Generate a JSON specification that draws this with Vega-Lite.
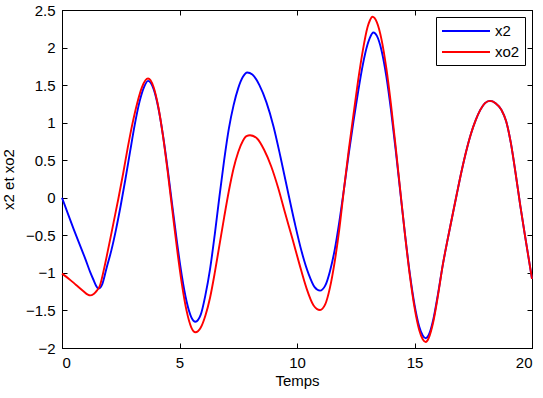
{
  "$schema": "https://vega.github.io/schema/vega-lite/v6.json",
  "width": 470,
  "height": 338,
  "autosize": {"type": "none"},
  "padding": {"left": 62, "top": 10, "right": 11, "bottom": 50},
  "background": "white",
  "config": {
    "font": "Liberation Sans",
    "view": {"stroke": "black", "strokeWidth": 1},
    "axis": {
      "labelFont": "Liberation Sans",
      "labelFontSize": 15,
      "labelColor": "black",
      "titleFont": "Liberation Sans",
      "titleFontSize": 15,
      "titleFontWeight": "normal",
      "titleColor": "black",
      "domainColor": "black",
      "tickColor": "black",
      "grid": false,
      "tickSize": -5,
      "domainWidth": 1,
      "tickWidth": 1
    }
  },
  "datasets": {
    "series": [
      {"t": 0, "v": 0, "s": "x2"},
      {"t": 0.25, "v": -0.21, "s": "x2"},
      {"t": 0.5, "v": -0.42, "s": "x2"},
      {"t": 0.75, "v": -0.62, "s": "x2"},
      {"t": 1.0, "v": -0.82, "s": "x2"},
      {"t": 1.2, "v": -0.99, "s": "x2"},
      {"t": 1.35, "v": -1.1, "s": "x2"},
      {"t": 1.45, "v": -1.17, "s": "x2"},
      {"t": 1.55, "v": -1.21, "s": "x2"},
      {"t": 1.7, "v": -1.16, "s": "x2"},
      {"t": 1.9, "v": -0.93, "s": "x2"},
      {"t": 2.1, "v": -0.7, "s": "x2"},
      {"t": 2.3, "v": -0.42, "s": "x2"},
      {"t": 2.5, "v": -0.1, "s": "x2"},
      {"t": 2.7, "v": 0.25, "s": "x2"},
      {"t": 2.9, "v": 0.62, "s": "x2"},
      {"t": 3.1, "v": 0.98, "s": "x2"},
      {"t": 3.3, "v": 1.28, "s": "x2"},
      {"t": 3.5, "v": 1.48, "s": "x2"},
      {"t": 3.66, "v": 1.557, "s": "x2"},
      {"t": 3.9, "v": 1.446, "s": "x2"},
      {"t": 4.1, "v": 1.196, "s": "x2"},
      {"t": 4.3, "v": 0.826, "s": "x2"},
      {"t": 4.5, "v": 0.374, "s": "x2"},
      {"t": 4.7, "v": -0.12, "s": "x2"},
      {"t": 4.9, "v": -0.608, "s": "x2"},
      {"t": 5.1, "v": -1.039, "s": "x2"},
      {"t": 5.3, "v": -1.377, "s": "x2"},
      {"t": 5.5, "v": -1.588, "s": "x2"},
      {"t": 5.68, "v": -1.65, "s": "x2"},
      {"t": 5.9, "v": -1.56, "s": "x2"},
      {"t": 6.1, "v": -1.3, "s": "x2"},
      {"t": 6.3, "v": -0.95, "s": "x2"},
      {"t": 6.5, "v": -0.49, "s": "x2"},
      {"t": 6.7, "v": 0.02, "s": "x2"},
      {"t": 6.9, "v": 0.5, "s": "x2"},
      {"t": 7.1, "v": 0.92, "s": "x2"},
      {"t": 7.3, "v": 1.23, "s": "x2"},
      {"t": 7.5, "v": 1.46, "s": "x2"},
      {"t": 7.7, "v": 1.61, "s": "x2"},
      {"t": 7.88, "v": 1.667, "s": "x2"},
      {"t": 8.1, "v": 1.64, "s": "x2"},
      {"t": 8.4, "v": 1.5, "s": "x2"},
      {"t": 8.7, "v": 1.27, "s": "x2"},
      {"t": 9.0, "v": 0.95, "s": "x2"},
      {"t": 9.3, "v": 0.54, "s": "x2"},
      {"t": 9.6, "v": 0.1, "s": "x2"},
      {"t": 9.9, "v": -0.33, "s": "x2"},
      {"t": 10.2, "v": -0.72, "s": "x2"},
      {"t": 10.5, "v": -1.02, "s": "x2"},
      {"t": 10.75, "v": -1.19, "s": "x2"},
      {"t": 10.98, "v": -1.236, "s": "x2"},
      {"t": 11.2, "v": -1.17, "s": "x2"},
      {"t": 11.4, "v": -0.98, "s": "x2"},
      {"t": 11.6, "v": -0.7, "s": "x2"},
      {"t": 11.8, "v": -0.32, "s": "x2"},
      {"t": 12.0, "v": 0.12, "s": "x2"},
      {"t": 12.2, "v": 0.58, "s": "x2"},
      {"t": 12.4, "v": 1.01, "s": "x2"},
      {"t": 12.6, "v": 1.41, "s": "x2"},
      {"t": 12.8, "v": 1.77, "s": "x2"},
      {"t": 13.0, "v": 2.04, "s": "x2"},
      {"t": 13.1, "v": 2.13, "s": "x2"},
      {"t": 13.25, "v": 2.2, "s": "x2"},
      {"t": 13.4, "v": 2.155, "s": "x2"},
      {"t": 13.6, "v": 1.958, "s": "x2"},
      {"t": 13.8, "v": 1.62, "s": "x2"},
      {"t": 14.0, "v": 1.166, "s": "x2"},
      {"t": 14.2, "v": 0.635, "s": "x2"},
      {"t": 14.4, "v": 0.065, "s": "x2"},
      {"t": 14.6, "v": -0.496, "s": "x2"},
      {"t": 14.8, "v": -1.007, "s": "x2"},
      {"t": 15.0, "v": -1.422, "s": "x2"},
      {"t": 15.2, "v": -1.713, "s": "x2"},
      {"t": 15.35, "v": -1.833, "s": "x2"},
      {"t": 15.48, "v": -1.87, "s": "x2"},
      {"t": 15.6, "v": -1.83, "s": "x2"},
      {"t": 15.8, "v": -1.62, "s": "x2"},
      {"t": 16.0, "v": -1.28, "s": "x2"},
      {"t": 16.2, "v": -0.9, "s": "x2"},
      {"t": 16.4, "v": -0.57, "s": "x2"},
      {"t": 16.6, "v": -0.26, "s": "x2"},
      {"t": 16.8, "v": 0.05, "s": "x2"},
      {"t": 17.0, "v": 0.35, "s": "x2"},
      {"t": 17.2, "v": 0.62, "s": "x2"},
      {"t": 17.4, "v": 0.85, "s": "x2"},
      {"t": 17.6, "v": 1.03, "s": "x2"},
      {"t": 17.8, "v": 1.17, "s": "x2"},
      {"t": 18.0, "v": 1.26, "s": "x2"},
      {"t": 18.2, "v": 1.29, "s": "x2"},
      {"t": 18.45, "v": 1.26, "s": "x2"},
      {"t": 18.7, "v": 1.17, "s": "x2"},
      {"t": 18.9, "v": 1.02, "s": "x2"},
      {"t": 19.1, "v": 0.73, "s": "x2"},
      {"t": 19.3, "v": 0.33, "s": "x2"},
      {"t": 19.5, "v": -0.1, "s": "x2"},
      {"t": 19.7, "v": -0.5, "s": "x2"},
      {"t": 19.85, "v": -0.79, "s": "x2"},
      {"t": 20, "v": -1.08, "s": "x2"},

      {"t": 0, "v": -1.01, "s": "xo2"},
      {"t": 0.3, "v": -1.08, "s": "xo2"},
      {"t": 0.6, "v": -1.16, "s": "xo2"},
      {"t": 0.9, "v": -1.24, "s": "xo2"},
      {"t": 1.1, "v": -1.29, "s": "xo2"},
      {"t": 1.2, "v": -1.3, "s": "xo2"},
      {"t": 1.35, "v": -1.28, "s": "xo2"},
      {"t": 1.5, "v": -1.23, "s": "xo2"},
      {"t": 1.6, "v": -1.18, "s": "xo2"},
      {"t": 1.8, "v": -0.93, "s": "xo2"},
      {"t": 2.0, "v": -0.63, "s": "xo2"},
      {"t": 2.2, "v": -0.32, "s": "xo2"},
      {"t": 2.4, "v": -0.01, "s": "xo2"},
      {"t": 2.6, "v": 0.32, "s": "xo2"},
      {"t": 2.8, "v": 0.67, "s": "xo2"},
      {"t": 3.0, "v": 0.99, "s": "xo2"},
      {"t": 3.2, "v": 1.26, "s": "xo2"},
      {"t": 3.4, "v": 1.47, "s": "xo2"},
      {"t": 3.55, "v": 1.565, "s": "xo2"},
      {"t": 3.66, "v": 1.588, "s": "xo2"},
      {"t": 3.9, "v": 1.471, "s": "xo2"},
      {"t": 4.1, "v": 1.208, "s": "xo2"},
      {"t": 4.3, "v": 0.818, "s": "xo2"},
      {"t": 4.5, "v": 0.341, "s": "xo2"},
      {"t": 4.7, "v": -0.179, "s": "xo2"},
      {"t": 4.9, "v": -0.692, "s": "xo2"},
      {"t": 5.1, "v": -1.146, "s": "xo2"},
      {"t": 5.3, "v": -1.503, "s": "xo2"},
      {"t": 5.5, "v": -1.724, "s": "xo2"},
      {"t": 5.68, "v": -1.79, "s": "xo2"},
      {"t": 5.9, "v": -1.73, "s": "xo2"},
      {"t": 6.1, "v": -1.57, "s": "xo2"},
      {"t": 6.3, "v": -1.33, "s": "xo2"},
      {"t": 6.5, "v": -1.0, "s": "xo2"},
      {"t": 6.7, "v": -0.63, "s": "xo2"},
      {"t": 6.9, "v": -0.26, "s": "xo2"},
      {"t": 7.1, "v": 0.09, "s": "xo2"},
      {"t": 7.3, "v": 0.39, "s": "xo2"},
      {"t": 7.5, "v": 0.61, "s": "xo2"},
      {"t": 7.7, "v": 0.76, "s": "xo2"},
      {"t": 7.85, "v": 0.822, "s": "xo2"},
      {"t": 8.0, "v": 0.833, "s": "xo2"},
      {"t": 8.3, "v": 0.79, "s": "xo2"},
      {"t": 8.6, "v": 0.64, "s": "xo2"},
      {"t": 8.9, "v": 0.42, "s": "xo2"},
      {"t": 9.2, "v": 0.13, "s": "xo2"},
      {"t": 9.5, "v": -0.21, "s": "xo2"},
      {"t": 9.8, "v": -0.54, "s": "xo2"},
      {"t": 10.1, "v": -0.88, "s": "xo2"},
      {"t": 10.4, "v": -1.2, "s": "xo2"},
      {"t": 10.7, "v": -1.43, "s": "xo2"},
      {"t": 10.98, "v": -1.494, "s": "xo2"},
      {"t": 11.2, "v": -1.42, "s": "xo2"},
      {"t": 11.4, "v": -1.2, "s": "xo2"},
      {"t": 11.6, "v": -0.86, "s": "xo2"},
      {"t": 11.8, "v": -0.42, "s": "xo2"},
      {"t": 12.0, "v": 0.12, "s": "xo2"},
      {"t": 12.2, "v": 0.63, "s": "xo2"},
      {"t": 12.4, "v": 1.1, "s": "xo2"},
      {"t": 12.6, "v": 1.56, "s": "xo2"},
      {"t": 12.8, "v": 1.96, "s": "xo2"},
      {"t": 13.0, "v": 2.27, "s": "xo2"},
      {"t": 13.1, "v": 2.36, "s": "xo2"},
      {"t": 13.21, "v": 2.41, "s": "xo2"},
      {"t": 13.4, "v": 2.336, "s": "xo2"},
      {"t": 13.6, "v": 2.103, "s": "xo2"},
      {"t": 13.8, "v": 1.728, "s": "xo2"},
      {"t": 14.0, "v": 1.239, "s": "xo2"},
      {"t": 14.2, "v": 0.676, "s": "xo2"},
      {"t": 14.4, "v": 0.08, "s": "xo2"},
      {"t": 14.6, "v": -0.504, "s": "xo2"},
      {"t": 14.8, "v": -1.03, "s": "xo2"},
      {"t": 15.0, "v": -1.459, "s": "xo2"},
      {"t": 15.2, "v": -1.76, "s": "xo2"},
      {"t": 15.35, "v": -1.883, "s": "xo2"},
      {"t": 15.48, "v": -1.92, "s": "xo2"},
      {"t": 15.6, "v": -1.87, "s": "xo2"},
      {"t": 15.8, "v": -1.65, "s": "xo2"},
      {"t": 16.0, "v": -1.3, "s": "xo2"},
      {"t": 16.2, "v": -0.9, "s": "xo2"},
      {"t": 16.4, "v": -0.57, "s": "xo2"},
      {"t": 16.6, "v": -0.26, "s": "xo2"},
      {"t": 16.8, "v": 0.05, "s": "xo2"},
      {"t": 17.0, "v": 0.35, "s": "xo2"},
      {"t": 17.2, "v": 0.62, "s": "xo2"},
      {"t": 17.4, "v": 0.85, "s": "xo2"},
      {"t": 17.6, "v": 1.03, "s": "xo2"},
      {"t": 17.8, "v": 1.17, "s": "xo2"},
      {"t": 18.0, "v": 1.26, "s": "xo2"},
      {"t": 18.2, "v": 1.29, "s": "xo2"},
      {"t": 18.45, "v": 1.26, "s": "xo2"},
      {"t": 18.7, "v": 1.17, "s": "xo2"},
      {"t": 18.9, "v": 1.02, "s": "xo2"},
      {"t": 19.1, "v": 0.73, "s": "xo2"},
      {"t": 19.3, "v": 0.33, "s": "xo2"},
      {"t": 19.5, "v": -0.1, "s": "xo2"},
      {"t": 19.7, "v": -0.5, "s": "xo2"},
      {"t": 19.85, "v": -0.79, "s": "xo2"},
      {"t": 20, "v": -1.08, "s": "xo2"}
    ]
  },
  "data": {"name": "series"},
  "layer": [
    {
      "mark": {"type": "line", "interpolate": "monotone", "strokeWidth": 1.9},
      "encoding": {
        "x": {
          "field": "t",
          "type": "quantitative",
          "scale": {"domain": [0, 20], "nice": false, "zero": false},
          "axis": {"orient": "bottom", "values": [0, 5, 10, 15, 20], "title": "Temps", "labelPadding": 12, "titlePadding": 3}
        },
        "y": {
          "field": "v",
          "type": "quantitative",
          "scale": {"domain": [-2, 2.5], "nice": false, "zero": false},
          "axis": {"orient": "left", "values": [-2, -1.5, -1, -0.5, 0, 0.5, 1, 1.5, 2, 2.5], "format": "~g", "title": "x2 et xo2", "labelPadding": 12, "titlePadding": 9}
        },
        "color": {
          "field": "s",
          "type": "nominal",
          "scale": {"domain": ["x2", "xo2"], "range": ["#0000ff", "#ff0000"]},
          "legend": {
            "title": null,
            "orient": "top-right",
            "offset": 7,
            "strokeColor": "black",
            "fillColor": "white",
            "padding": 5,
            "cornerRadius": 0,
            "symbolType": "M-1,0H5",
            "symbolSize": 256,
            "symbolStrokeWidth": 1.9,
            "labelFont": "Liberation Sans",
            "labelFontSize": 15,
            "labelColor": "black",
            "labelOffset": 36,
            "rowPadding": 4
          }
        }
      }
    },
    {
      "mark": {"type": "line", "strokeOpacity": 0},
      "encoding": {
        "x": {
          "field": "t",
          "type": "quantitative",
          "axis": {"orient": "top", "values": [0, 5, 10, 15, 20], "labels": false, "title": null}
        },
        "y": {
          "field": "v",
          "type": "quantitative",
          "axis": {"orient": "right", "values": [-2, -1.5, -1, -0.5, 0, 0.5, 1, 1.5, 2, 2.5], "labels": false, "title": null}
        },
        "detail": {"field": "s"}
      }
    }
  ],
  "resolve": {"axis": {"x": "independent", "y": "independent"}}
}
